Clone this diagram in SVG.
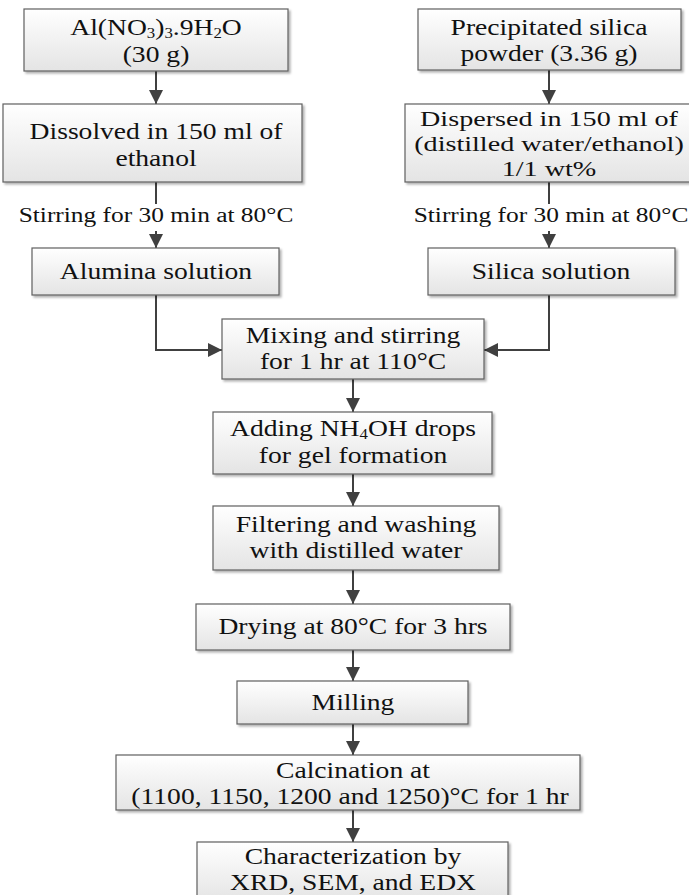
<svg xmlns="http://www.w3.org/2000/svg" width="689" height="895" viewBox="0 0 689 895">
<defs>
<linearGradient id="g" x1="0" y1="0" x2="0" y2="1">
<stop offset="0" stop-color="#ffffff"/>
<stop offset="1" stop-color="#e4e4e4"/>
</linearGradient>
<filter id="sh" x="-5%" y="-5%" width="110%" height="120%">
<feDropShadow dx="2" dy="2" stdDeviation="1" flood-color="#000" flood-opacity="0.3"/>
</filter>
<marker id="ah" markerUnits="userSpaceOnUse" markerWidth="16" markerHeight="14" refX="14" refY="7" orient="auto">
<path d="M0,0 L14,7 L0,14 Z" fill="#404040"/>
</marker>
</defs>
<style>
.box{fill:url(#g);stroke:#606060;stroke-width:1.2;filter:url(#sh)}
.t{font-family:"Liberation Serif","Times New Roman",serif;font-size:23px;fill:#111;text-anchor:middle}
.t3{font-family:"Liberation Serif","Times New Roman",serif;font-size:22px;fill:#111;text-anchor:middle}
.lbl{font-family:"Liberation Serif","Times New Roman",serif;font-size:20px;fill:#111;text-anchor:middle}
.sub{font-size:14px}
.c{fill:none;stroke:#404040;stroke-width:2}
.ca{fill:none;stroke:#404040;stroke-width:2;marker-end:url(#ah)}
</style>

<g id="connectors">
<line class="ca" x1="156" y1="71" x2="156" y2="104"/>
<line class="c" x1="156" y1="182" x2="156" y2="204"/>
<line class="ca" x1="156" y1="231" x2="156" y2="248"/>
<polyline class="ca" points="156,295 156,350 222,350"/>
<line class="ca" x1="549" y1="70" x2="549" y2="104"/>
<line class="c" x1="549" y1="182" x2="549" y2="204"/>
<line class="ca" x1="549" y1="231" x2="549" y2="248"/>
<polyline class="ca" points="549,295 549,350 484,350"/>
<line class="ca" x1="353" y1="379" x2="353" y2="412"/>
<line class="ca" x1="353" y1="474" x2="353" y2="506"/>
<line class="ca" x1="353" y1="570" x2="353" y2="604"/>
<line class="ca" x1="353" y1="650" x2="353" y2="681"/>
<line class="ca" x1="353" y1="724" x2="353" y2="755"/>
<line class="ca" x1="353" y1="810" x2="353" y2="842"/>
</g>

<g id="lbl-left"><text class="lbl" transform="matrix(1.27 0 0 1 156 0)" y="222">Stirring for 30 min at 80°C</text></g>
<g id="lbl-right"><text class="lbl" transform="matrix(1.27 0 0 1 551 0)" y="222">Stirring for 30 min at 80°C</text></g>

<g id="n-al">
<rect class="box" x="24" y="9" width="264" height="62"/>
<text class="t" transform="matrix(1.2 0 0 1 156 0)" y="35">Al(NO<tspan class="sub" dy="3">3</tspan><tspan dy="-3">)</tspan><tspan class="sub" dy="3">3</tspan><tspan dy="-3">.9H</tspan><tspan class="sub" dy="3">2</tspan><tspan dy="-3">O</tspan></text>
<text class="t" transform="matrix(1.2 0 0 1 156 0)" y="62">(30 g)</text>
</g>

<g id="n-dissolved">
<rect class="box" x="3" y="104" width="299" height="78"/>
<text class="t" transform="matrix(1.2 0 0 1 156 0)" y="139">Dissolved in 150 ml of</text>
<text class="t" transform="matrix(1.2 0 0 1 156 0)" y="166">ethanol</text>
</g>

<g id="n-alumina">
<rect class="box" x="32" y="248" width="247" height="47"/>
<text class="t" transform="matrix(1.2 0 0 1 156 0)" y="279">Alumina solution</text>
</g>

<g id="n-silica-powder">
<rect class="box" x="418" y="9" width="263" height="61"/>
<text class="t" transform="matrix(1.2 0 0 1 549 0)" y="35">Precipitated silica</text>
<text class="t" transform="matrix(1.2 0 0 1 549 0)" y="61">powder (3.36 g)</text>
</g>

<g id="n-dispersed">
<rect class="box" x="405" y="104" width="290" height="78"/>
<text class="t3" transform="matrix(1.28 0 0 1 549 0)" y="126">Dispersed in 150 ml of</text>
<text class="t3" transform="matrix(1.28 0 0 1 549 0)" y="151">(distilled water/ethanol)</text>
<text class="t3" transform="matrix(1.28 0 0 1 549 0)" y="176">1/1 wt%</text>
</g>

<g id="n-silica-sol">
<rect class="box" x="428" y="248" width="247" height="47"/>
<text class="t" transform="matrix(1.2 0 0 1 551 0)" y="279">Silica solution</text>
</g>

<g id="n-mixing">
<rect class="box" x="222" y="319" width="262" height="60"/>
<text class="t" transform="matrix(1.2 0 0 1 353 0)" y="343">Mixing and stirring</text>
<text class="t" transform="matrix(1.2 0 0 1 353 0)" y="369">for 1 hr at 110°C</text>
</g>

<g id="n-adding">
<rect class="box" x="213" y="412" width="279" height="62"/>
<text class="t" transform="matrix(1.2 0 0 1 353 0)" y="436">Adding NH<tspan class="sub" dy="3">4</tspan><tspan dy="-3">OH drops</tspan></text>
<text class="t" transform="matrix(1.2 0 0 1 353 0)" y="463">for gel formation</text>
</g>

<g id="n-filtering">
<rect class="box" x="213" y="506" width="286" height="64"/>
<text class="t" transform="matrix(1.2 0 0 1 356 0)" y="532">Filtering and washing</text>
<text class="t" transform="matrix(1.2 0 0 1 356 0)" y="558">with distilled water</text>
</g>

<g id="n-drying">
<rect class="box" x="196" y="604" width="314" height="46"/>
<text class="t" transform="matrix(1.2 0 0 1 353 0)" y="634">Drying at 80°C for 3 hrs</text>
</g>

<g id="n-milling">
<rect class="box" x="237" y="681" width="231" height="43"/>
<text class="t" transform="matrix(1.2 0 0 1 353 0)" y="710">Milling</text>
</g>

<g id="n-calcination">
<rect class="box" x="116" y="755" width="464" height="55"/>
<text class="t" transform="matrix(1.2 0 0 1 353 0)" y="778">Calcination at</text>
<text class="t" transform="matrix(1.2 0 0 1 350 0)" y="804">(1100, 1150, 1200 and 1250)°C for 1 hr</text>
</g>

<g id="n-char">
<rect class="box" x="197" y="842" width="311" height="60"/>
<text class="t" transform="matrix(1.2 0 0 1 353 0)" y="864">Characterization by</text>
<text class="t" transform="matrix(1.2 0 0 1 353 0)" y="890">XRD, SEM, and EDX</text>
</g>
</svg>
